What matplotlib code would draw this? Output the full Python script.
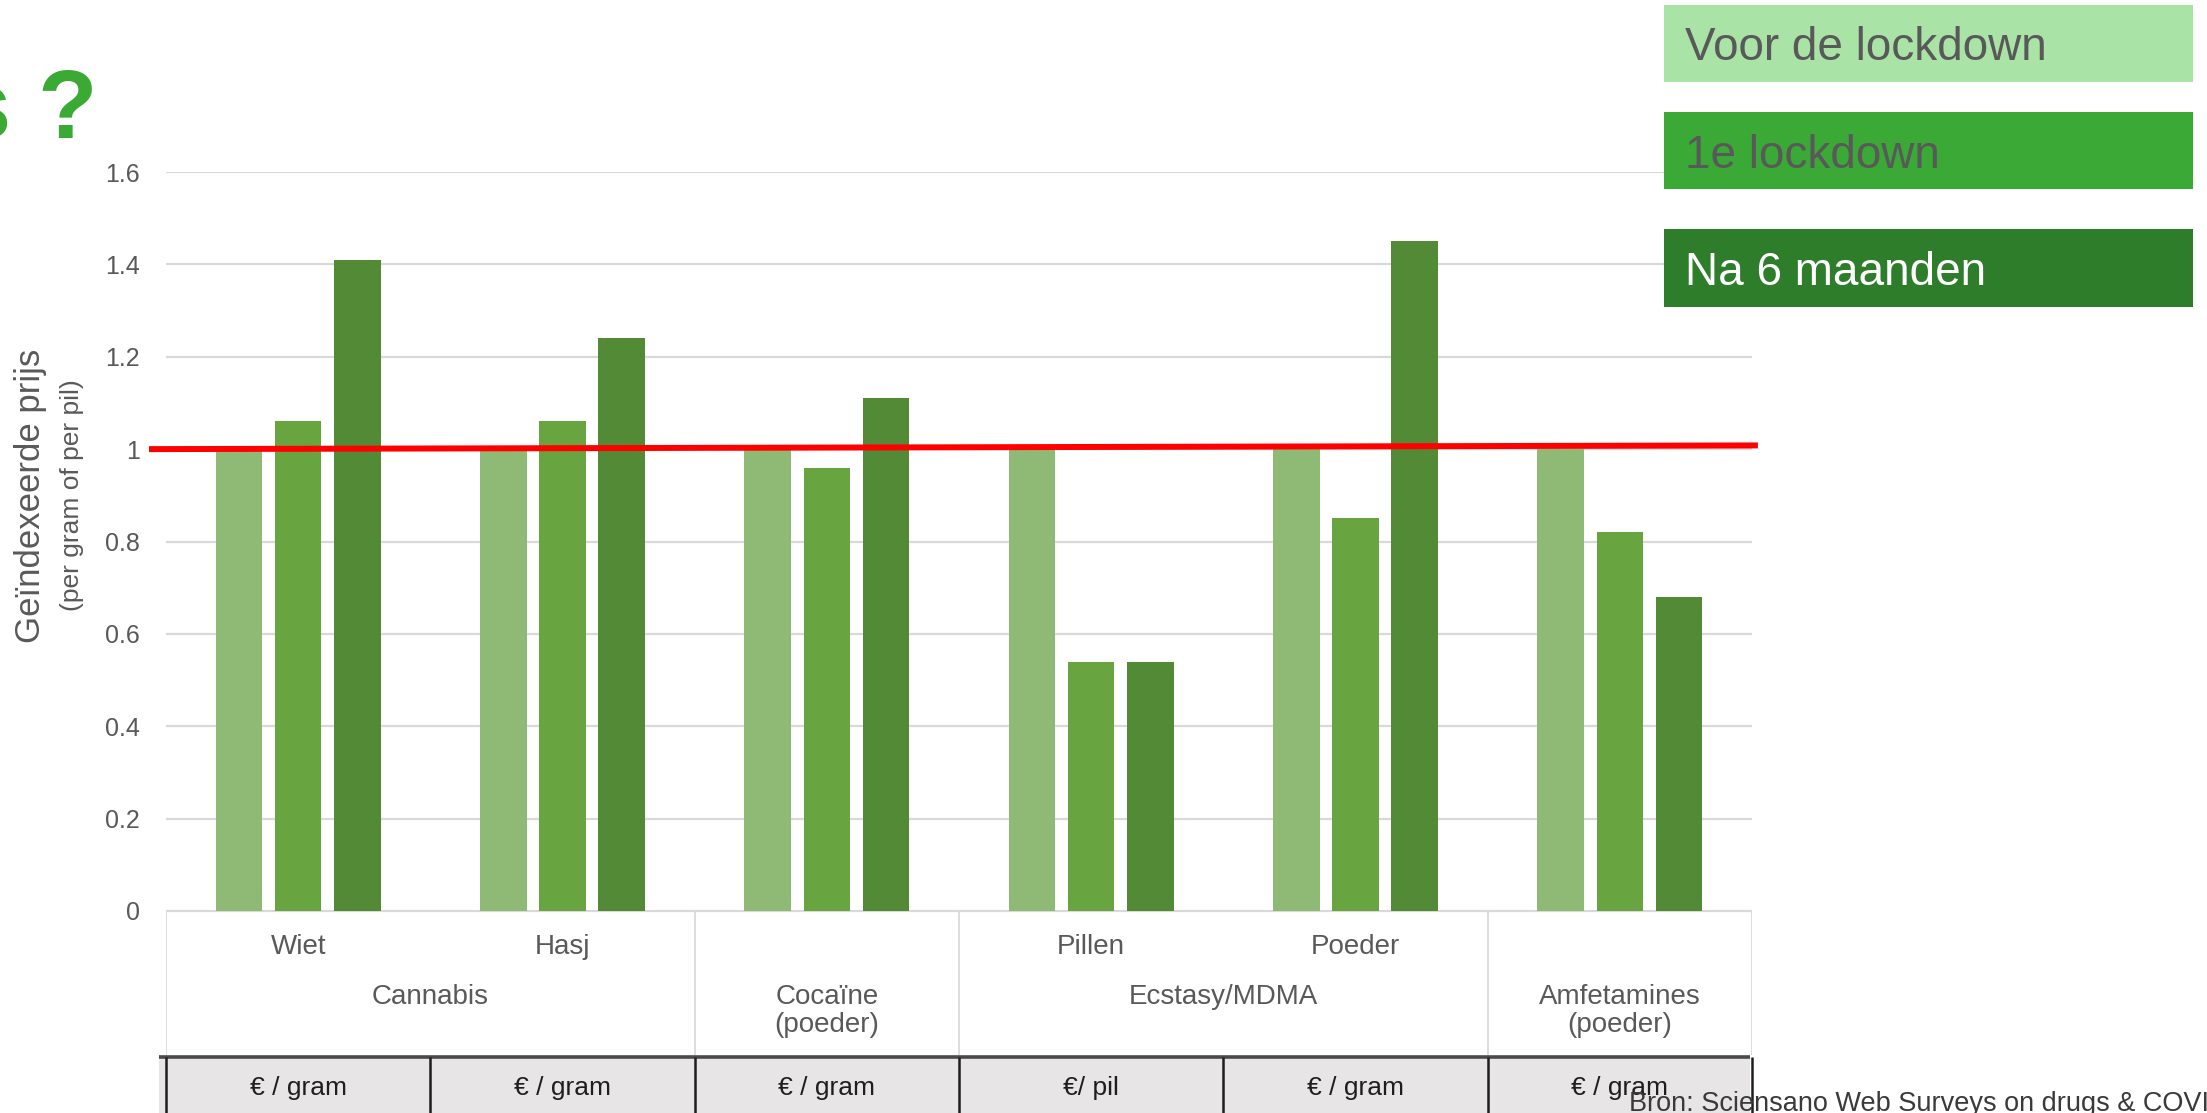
import numpy as np
import matplotlib
matplotlib.use("Agg")
import matplotlib.pyplot as plt
from matplotlib.patches import Rectangle

# chart data
subcats = ["Wiet", "Hasj", "", "Pillen", "Poeder", ""]
groups = ["Cannabis", "Cocaïne\n(poeder)", "Ecstasy/MDMA", "Amfetamines\n(poeder)"]
group_span = [(0, 1), (2, 2), (3, 4), (5, 5)]
units = ["€ / gram", "€ / gram", "€ / gram", "€/ pil", "€ / gram", "€ / gram"]

series_names = ["Voor de lockdown", "1e lockdown", "Na 6 maanden"]
voor = [1.00, 1.00, 1.00, 1.00, 1.00, 1.00]
eerste = [1.06, 1.06, 0.96, 0.54, 0.85, 0.82]
na_6 = [1.41, 1.24, 1.11, 0.54, 1.45, 0.68]
ref_level = [1.0, 1.008]

yticks = [0, 0.2, 0.4, 0.6, 0.8, 1.0, 1.2, 1.4, 1.6]

bar_colors = ["#8fba75", "#68a43f", "#528a36"]
legend_face = ["#a9e4a6", "#3aa935", "#2e7d2b"]
legend_text = ["#595959", "#595959", "#ffffff"]
GREY = "#595959"
FONT = "Liberation Sans"

W, H = 2207, 1113


def fx(px):
    return px / W


def fy(py):
    return 1 - py / H


fig = plt.figure(figsize=(W / 100, H / 100), dpi=100)
fig.patch.set_facecolor("white")

# main bar axes
ax = fig.add_axes([fx(166), fy(911), fx(1752) - fx(166), fy(172) - fy(911)])
x = np.arange(len(subcats))
for i, vals in enumerate([voor, eerste, na_6]):
    ax.bar(x + (i - 1) * 0.224, vals, width=0.176, color=bar_colors[i], zorder=2)
ax.set_xlim(-0.5, 5.5)
ax.set_ylim(0, 1.6)
ax.set_yticks(yticks)
ax.set_yticklabels([f"{v:g}" for v in yticks], family=FONT)
ax.set_xticks([])
ax.yaxis.grid(True, color="#d9d9d9", lw=1.6)
ax.set_axisbelow(True)
ax.tick_params(axis="y", length=0, pad=19, labelsize=18, labelcolor=GREY)
for s in ax.spines.values():
    s.set_visible(False)

ax.plot([-0.553, 5.511], ref_level, color="#ff0000", lw=4.3, clip_on=False, zorder=4)

# axis title, two lines of different size
fig.text(fx(31), fy(496), "Geïndexeerde prijs", rotation=90, ha="center", va="center",
         size=25, color=GREY, family=FONT)
fig.text(fx(72), fy(495), "(per gram of per pil)", rotation=90, ha="center", va="center",
         size=19, color=GREY, family=FONT)

# category table under the bars (y in image pixel rows)
tab = fig.add_axes([fx(166), 0, fx(1752) - fx(166), fy(911)])
tab.set_xlim(-0.5, 5.5)
tab.set_ylim(H, 911)
tab.axis("off")

tab.hlines(911, -0.5, 5.5, color="#d9d9d9", lw=1.6)
tab.vlines([-0.5, 1.5, 2.5, 4.5, 5.5], 911, 1055, color="#dcdcdc", lw=1.4)
for i, name in enumerate(subcats):
    tab.text(i, 947, name, ha="center", va="center", size=20, color=GREY, family=FONT)
for name, (a, b) in zip(groups, group_span):
    yc = 1011 if "\n" in name else 997
    tab.text((a + b) / 2, yc, name, ha="center", va="center", size=20, color=GREY,
             family=FONT, linespacing=1.1)

tab.add_patch(Rectangle((-0.527, 1057), 6.02, 80, fc="#e7e5e5", ec="none", clip_on=False))
tab.hlines(1057, -0.527, 5.493, color="#4a4a4a", lw=2.6, clip_on=False)
tab.vlines(np.arange(-0.5, 5.6, 1.0), 1057, H, color="#1e1e1e", lw=1.8, clip_on=False)
for i, u in enumerate(units):
    tab.text(i, 1088, u, ha="center", va="center", size=19, color="#1e1e1e", family=FONT)

# legend boxes top right
box_rows = [(5, 82), (112, 189), (229, 307)]
for name, face, tcol, (top, bot) in zip(series_names, legend_face, legend_text, box_rows):
    fig.patches.append(Rectangle((fx(1664), fy(bot)), fx(529), (bot - top) / H,
                                 transform=fig.transFigure, fc=face, ec="none"))
    fig.text(fx(1685), fy((top + bot) / 2 + 5), name, ha="left", va="center",
             size=33, color=tcol, family=FONT)

# cut-off slide title and source line
fig.text(fx(97), fy(138), "s ?", ha="right", va="baseline", size=70, weight="bold",
         color="#3aaa35", family=FONT)
fig.text(fx(1629), fy(1111), "Bron: Sciensano Web Surveys on drugs & COVID-19",
         ha="left", va="baseline", size=19.5, color="#3a3a3a", family=FONT)

fig.savefig("out.png", dpi=100, facecolor="white")
